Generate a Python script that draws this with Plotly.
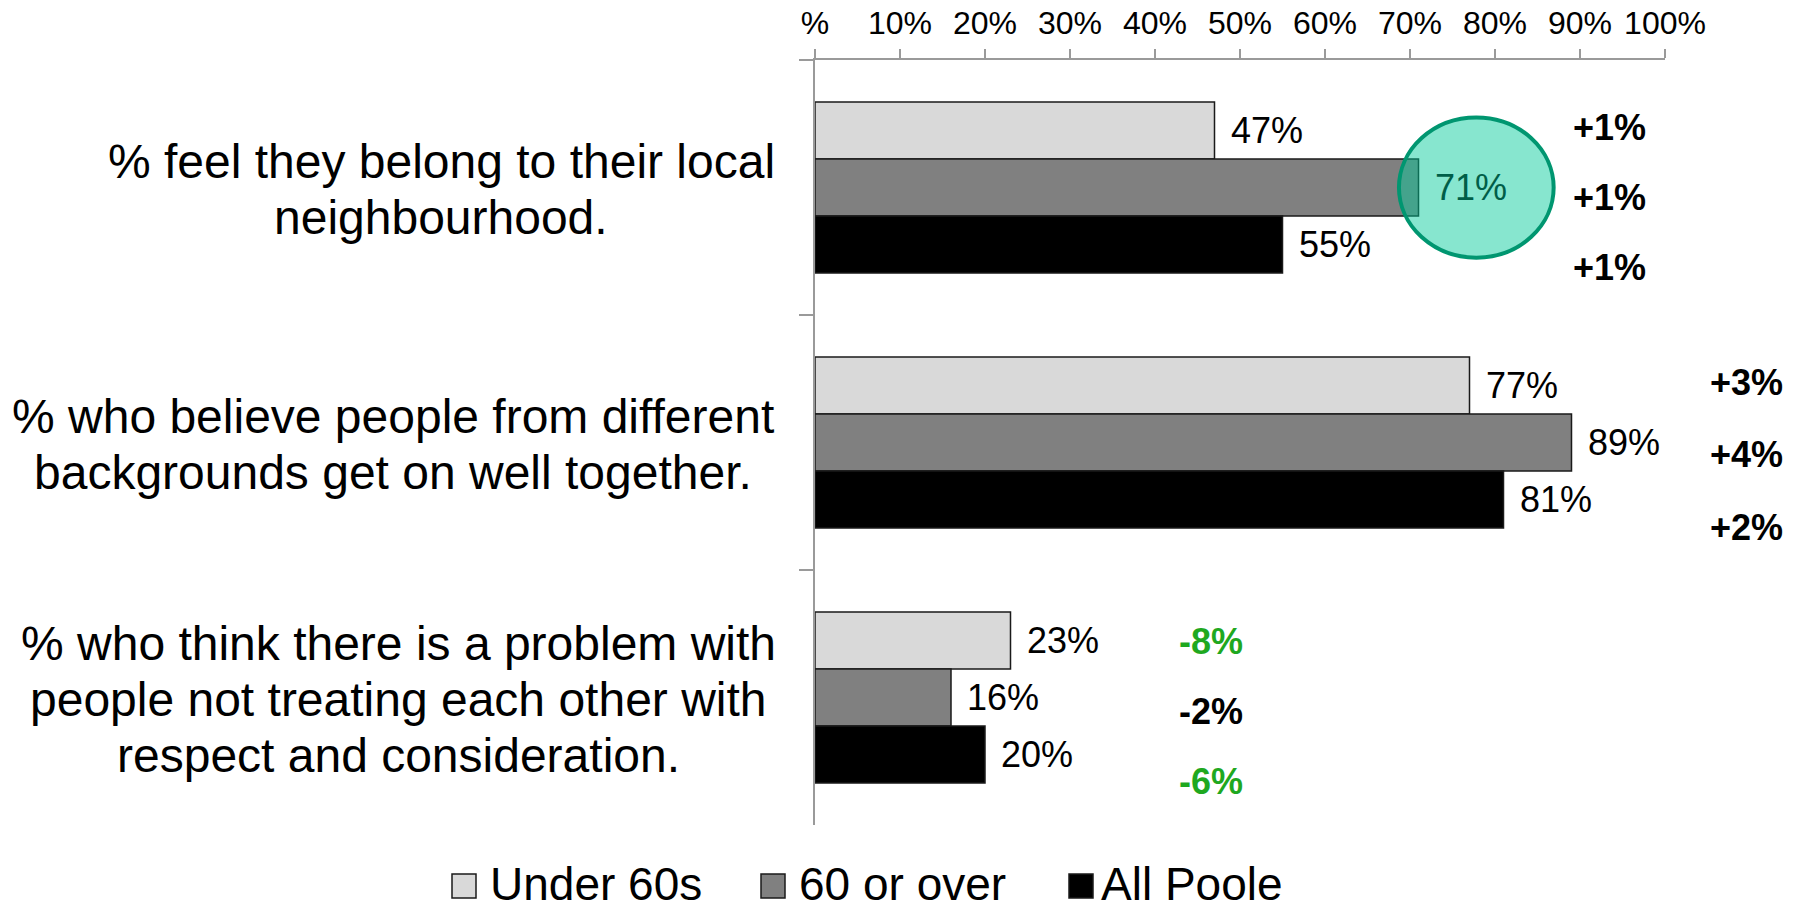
import plotly.graph_objects as go

# ---- data -------------------------------------------------------------
categories = [
    "% feel they belong to their local<br>neighbourhood.",
    "% who believe people from different<br>backgrounds get on well together.",
    "% who think there is a problem with<br>people not treating each other with<br>respect and consideration.",
]
series_names = ["Under 60s", "60 or over", "All Poole"]
under_60s = [47, 77, 23]
sixty_or_over = [71, 89, 16]
all_poole = [55, 81, 20]

# change since the previous survey (percentage points)
change_under_60s = [1, 3, -8]
change_sixty_or_over = [1, 4, -2]
change_all_poole = [1, 2, -6]
# improvements flagged in green
flag_under_60s = [False, False, True]
flag_sixty_or_over = [False, False, False]
flag_all_poole = [False, False, True]

tick_values = [0, 10, 20, 30, 40, 50, 60, 70, 80, 90, 100]
tick_labels = ["%", "10%", "20%", "30%", "40%", "50%", "60%", "70%", "80%", "90%", "100%"]

# highlighted value: 60 or over, first statement
highlight_series = 1
highlight_category = 0

# ---- styling ----------------------------------------------------------
FONT = "Liberation Sans, Arial, sans-serif"
bar_colors = ["#d9d9d9", "#808080", "#000000"]
axis_color = "#9a9a9a"
green = "#1fa81f"
ring_fill = (0, 201, 153)
ring_alpha = 0.47
ring_line = "rgb(0,150,112)"

W, H = 1803, 910
L, R, T, B = 815, 138, 60, 85
PW, PH = W - L - R, H - T - B
BARGAP = 0.33


def px_x(p):
    return (p - L) / PW


def px_y(p):
    return 1 - (p - T) / PH


values = [under_60s, sixty_or_over, all_poole]
changes = [change_under_60s, change_sixty_or_over, change_all_poole]
flags = [flag_under_60s, flag_sixty_or_over, flag_all_poole]
n_series = len(series_names)
bar_w = (1 - BARGAP) / n_series

fig = go.Figure()
for s, name in enumerate(series_names):
    fig.add_trace(go.Bar(
        name=name,
        y=categories,
        x=values[s],
        orientation="h",
        marker=dict(color=bar_colors[s], line=dict(color="#1a1a1a", width=1.5)),
        showlegend=False,
        hoverinfo="skip",
    ))

annotations = []

# value labels just past the end of each bar
ring_text = "rgb(%d,%d,%d)" % tuple(round(c * ring_alpha) for c in ring_fill)
for s in range(n_series):
    for c in range(len(categories)):
        pos = c + (s - (n_series - 1) / 2) * bar_w
        is_hl = (s == highlight_series and c == highlight_category)
        annotations.append(dict(
            x=values[s][c], y=pos, xref="x", yref="y",
            text=f"{values[s][c]}%", showarrow=False,
            xanchor="left", yanchor="middle", xshift=14,
            font=dict(family=FONT, size=36, color=ring_text if is_hl else "black"),
        ))

# statement labels to the left of the axis, lines centred within each block
label_centres = [441, 393, 398]
line_pitch = 56
for c, cat in enumerate(categories):
    lines = cat.split("<br>")
    n = len(lines)
    for k, line in enumerate(lines):
        annotations.append(dict(
            x=px_x(label_centres[c]), y=cat, xref="paper", yref="y",
            text=line, showarrow=False, xanchor="center", yanchor="middle",
            yshift=-(k - (n - 1) / 2) * line_pitch - 1.5,
            font=dict(family=FONT, size=48, color="black"),
        ))

# change labels, one column per statement (offsets from the row centre, px)
change_x = [1609, 1746, 1211]
change_dy = [[-60, 10, 80], [-60, 12, 85], [-56, 14, 84]]
for c, cat in enumerate(categories):
    for s in range(n_series):
        v = changes[s][c]
        annotations.append(dict(
            x=px_x(change_x[c]), y=cat, xref="paper", yref="y",
            text=f"{v:+d}%", showarrow=False, xanchor="center", yanchor="middle",
            yshift=-change_dy[c][s],
            font=dict(family=FONT, size=36, color=green if flags[s][c] else "black",
                      weight="bold"),
        ))

# legend
shapes = []
swatch_left = [452, 761, 1069]
text_left = [488, 797, 1099]
legend_y = 884
sw = 24
for s, name in enumerate(series_names):
    shapes.append(dict(
        type="rect", xref="paper", yref="paper",
        x0=px_x(swatch_left[s]), x1=px_x(swatch_left[s] + sw),
        y0=px_y(legend_y + 2 + sw / 2), y1=px_y(legend_y + 2 - sw / 2),
        fillcolor=bar_colors[s], line=dict(color="#1a1a1a", width=1.5),
    ))
    annotations.append(dict(
        x=px_x(text_left[s]), y=px_y(legend_y), xref="paper", yref="paper",
        text=name, showarrow=False, xanchor="left", yanchor="middle",
        font=dict(family=FONT, size=46, color="black"),
    ))

# ring around the highlighted bar end
hv = values[highlight_series][highlight_category]
hpos = highlight_category + (highlight_series - (n_series - 1) / 2) * bar_w
shapes.append(dict(
    type="circle", xref="x", yref="y", layer="above",
    x0=hv - 2.3, x1=hv + 15.9, y0=hpos - 0.275, y1=hpos + 0.275,
    fillcolor="rgba(%d,%d,%d,%.2f)" % (*ring_fill, ring_alpha),
    line=dict(color=ring_line, width=4),
))

fig.update_layout(
    width=W, height=H,
    margin=dict(l=L, r=R, t=T, b=B),
    paper_bgcolor="white", plot_bgcolor="white",
    barmode="group", bargap=BARGAP, bargroupgap=0,
    showlegend=False,
    annotations=annotations,
    shapes=shapes,
    font=dict(family=FONT, color="black"),
    xaxis=dict(
        side="top", range=[0, 100], tickmode="array",
        tickvals=tick_values, ticktext=tick_labels,
        ticks="outside", ticklen=9, tickwidth=1.5, tickcolor=axis_color,
        ticklabelstandoff=2, automargin=False,
        showline=True, linecolor=axis_color, linewidth=2,
        showgrid=False, zeroline=False,
        tickfont=dict(family=FONT, size=32, color="black"),
    ),
    yaxis=dict(
        type="category", range=[len(categories) - 0.5, -0.5], automargin=False,
        ticks="outside", tickson="boundaries", ticklen=14, tickwidth=1.5,
        tickcolor=axis_color, showline=True, linecolor=axis_color, linewidth=2,
        showticklabels=False, showgrid=False, zeroline=False,
    ),
)

fig.write_html("out.html")
